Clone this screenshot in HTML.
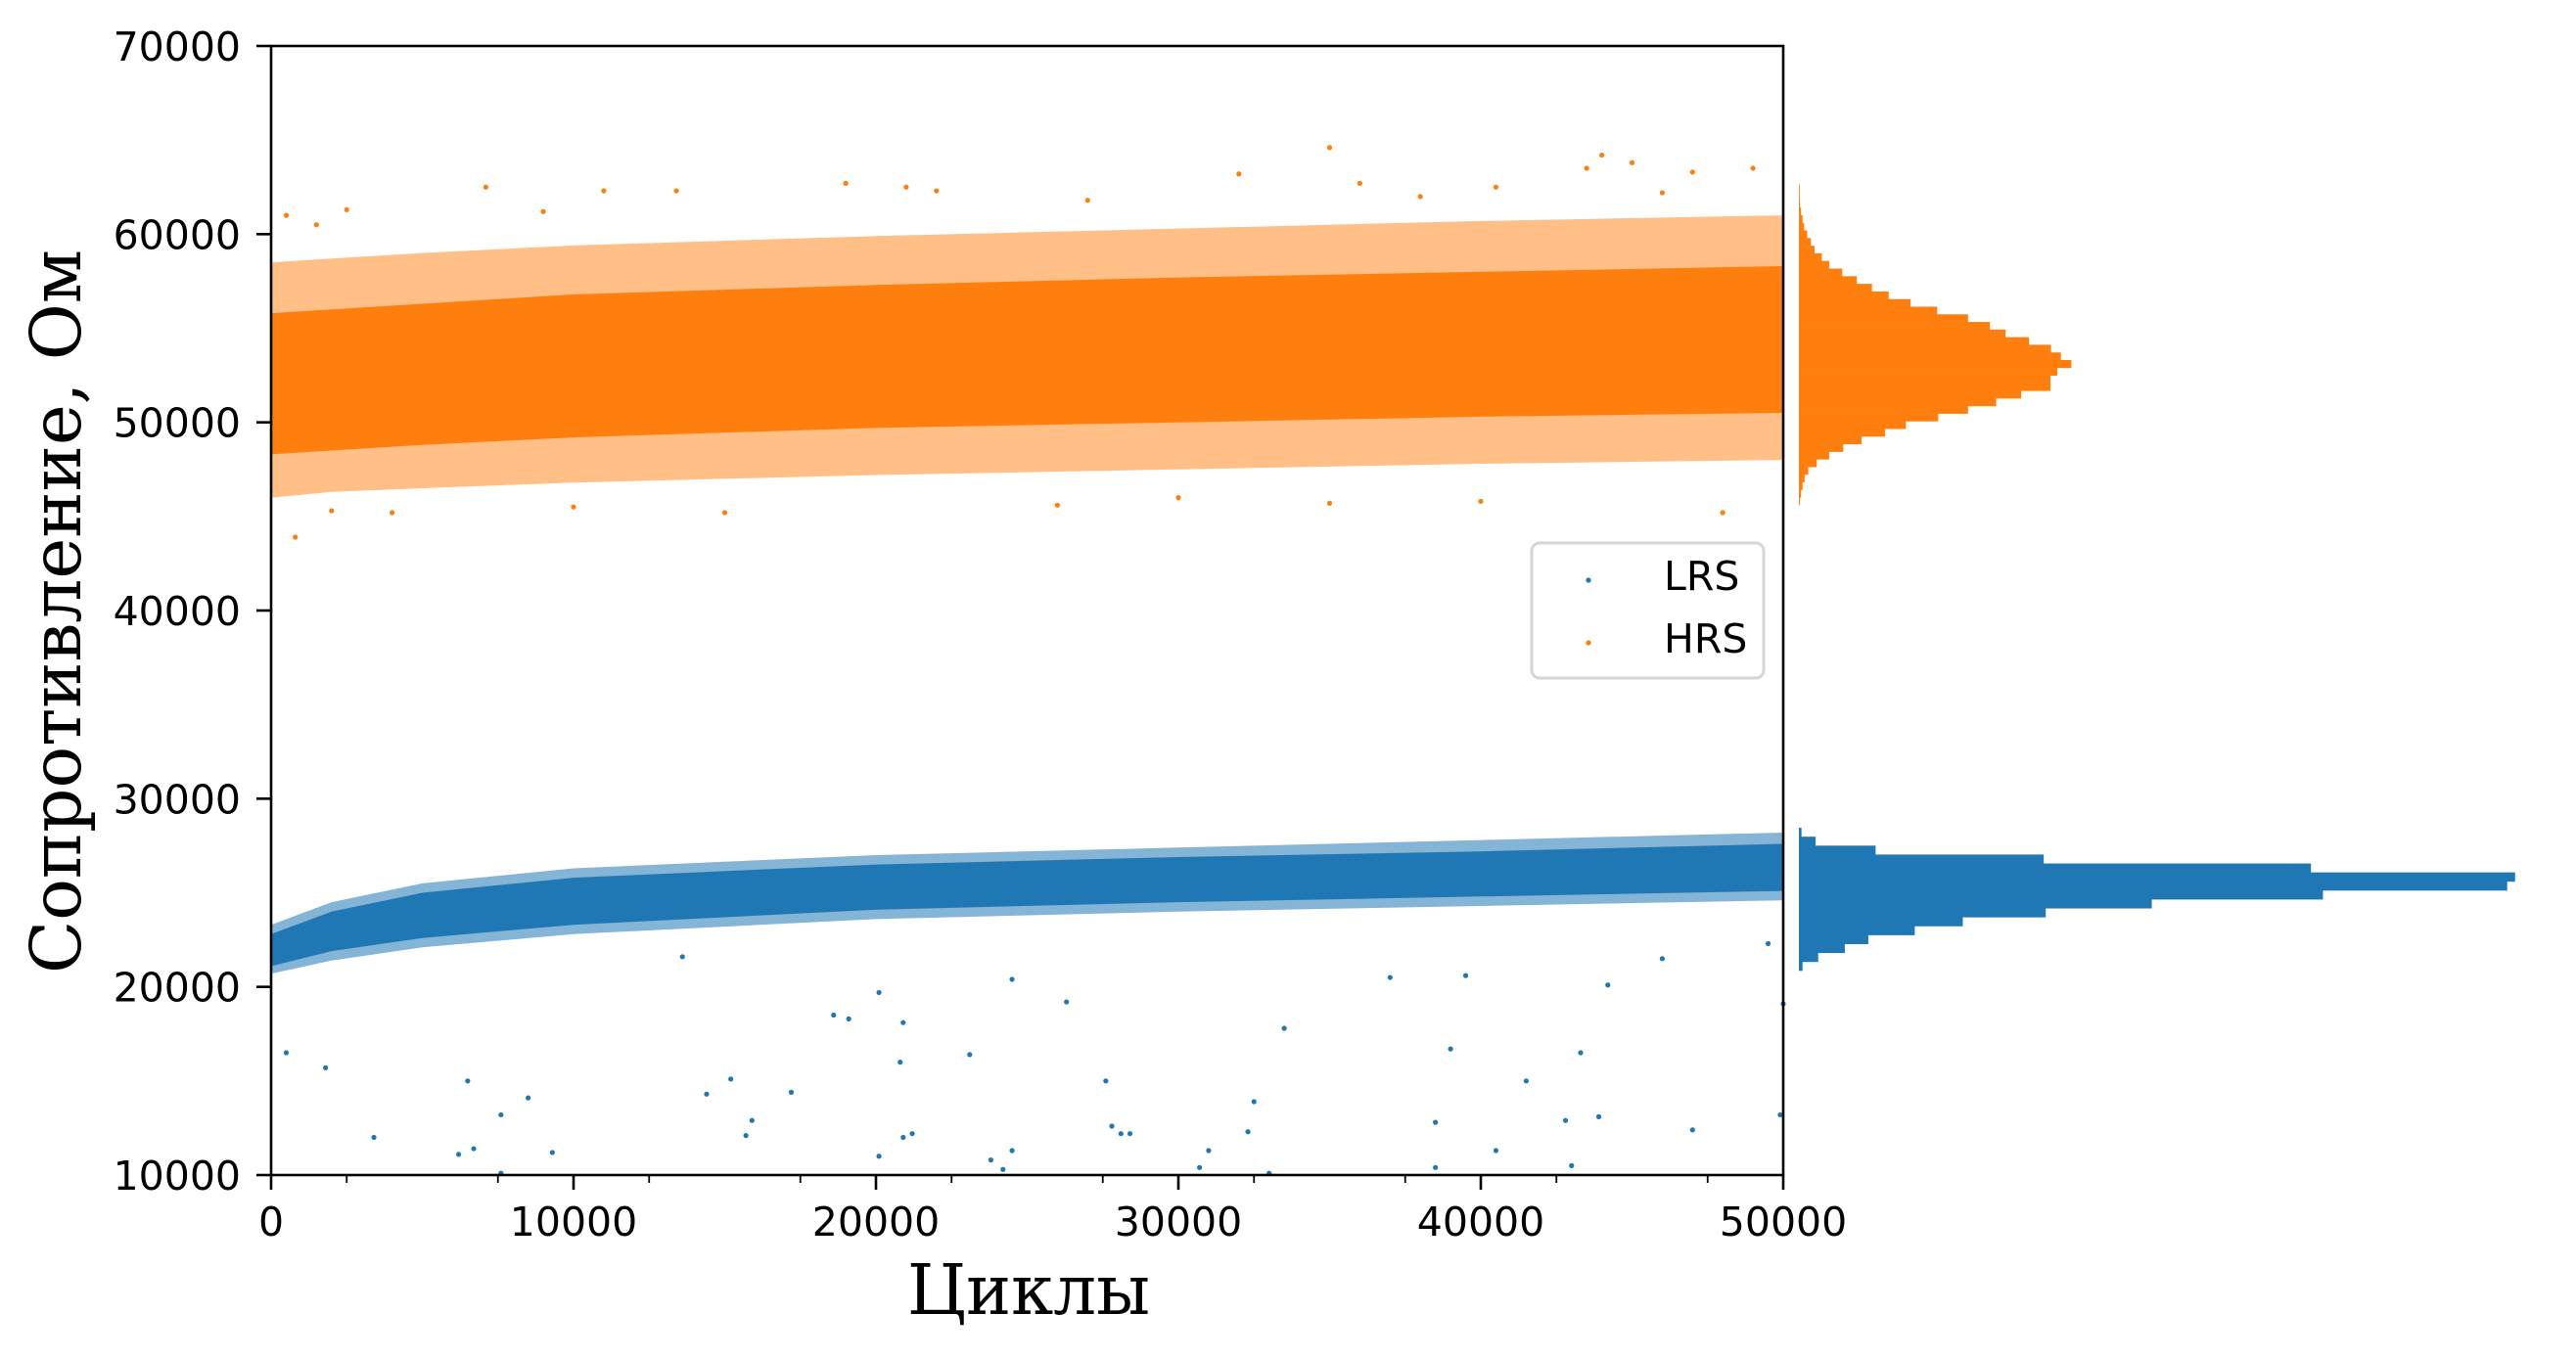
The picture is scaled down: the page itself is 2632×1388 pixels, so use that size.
<!DOCTYPE html>
<html><head><meta charset="utf-8">
<style>
html,body{margin:0;padding:0;background:#fff;}
svg{display:block;}
text{font-family:"DejaVu Sans","Liberation Sans",sans-serif;}
</style></head>
<body>
<svg id="chart" width="2632" height="1388" viewBox="0 0 2632 1388" xmlns="http://www.w3.org/2000/svg">
<rect width="2632" height="1388" fill="#fff"/>
<g id="scatter"></g>
<g id="hist"></g>
<g id="axes"></g>
<g id="legend">
  <rect x="1565" y="555" width="237" height="138" rx="8" fill="#fff" fill-opacity="0.8" stroke="#d5d5d5" stroke-width="3"/>
  <circle cx="1623" cy="593" r="2.6" fill="#1f77b4"/>
  <text x="1700" y="603" font-size="41" fill="#000">LRS</text>
  <circle cx="1623" cy="657" r="2.6" fill="#ff7f0e"/>
  <text x="1700" y="667" font-size="41" fill="#000">HRS</text>
</g>
<text x="1051" y="1343" text-anchor="middle" font-size="71" textLength="248" lengthAdjust="spacingAndGlyphs" style="font-family:'DejaVu Serif','Liberation Serif',serif">Циклы</text>
<text transform="translate(82,625) rotate(-90)" text-anchor="middle" font-size="71" textLength="740" lengthAdjust="spacingAndGlyphs" style="font-family:'DejaVu Serif','Liberation Serif',serif">Сопротивление, Ом</text>
</svg>
<script>
const xTicks = [0,10000,20000,30000,40000,50000];
const yTicks = [10000,20000,30000,40000,50000,60000,70000];
const bandX = [0,2000,5000,10000,20000,30000,40000,50000];
const hrsOuterLo = [46000,46300,46500,46800,47200,47500,47800,48000];
const hrsCoreLo  = [48300,48500,48800,49200,49700,50000,50300,50500];
const hrsCoreHi  = [55800,56000,56300,56800,57300,57700,58000,58300];
const hrsOuterHi = [58500,58700,59000,59400,59900,60300,60700,61000];
const lrsOuterLo = [20700,21400,22100,22800,23600,24000,24300,24600];
const lrsCoreLo  = [21100,21900,22600,23300,24100,24500,24800,25100];
const lrsCoreHi  = [22800,24000,25000,25800,26500,26900,27200,27600];
const lrsOuterHi = [23300,24500,25500,26300,27000,27400,27800,28200];
const lrsOutX = [500,1800,3400,6200,6500,6700,7600,7600,8500,9300,13600,14400,15200,15700,15900,17200,18600,19100,20100,20100,20800,20900,20900,21200,23100,23800,24200,24500,24500,26300,27600,27800,28100,28400,30700,31000,32300,32500,33500,33000,37000,38500,38500,39000,39500,40500,41500,42800,43000,43300,43900,44200,46000,47000,49500,49900,50000];
const lrsOutY = [16500,15700,12000,11100,15000,11400,13200,10100,14100,11200,21600,14300,15100,12100,12900,14400,18500,18300,19700,11000,16000,12000,18100,12200,16400,10800,10300,11300,20400,19200,15000,12600,12200,12200,10400,11300,12300,13900,17800,10100,20500,12800,10400,16700,20600,11300,15000,12900,10500,16500,13100,20100,21500,12400,22300,13200,19100];
const hrsOutX = [500,800,2500,7100,11000,13400,19000,21000,22000,32000,35000,36000,40500,44000,43500,45000,47000,49000,48000,15000,26000,4000,2000,35000,10000,30000,40000,1500,9000,27000,38000,46000];
const hrsOutY = [61000,43900,61300,62500,62300,62300,62700,62500,62300,63200,64600,62700,62500,64200,63500,63800,63300,63500,45200,45200,45600,45200,45300,45700,45500,46000,45800,60500,61200,61800,62000,62200];
const hrsBinStart = 45615, hrsBinWidth = 405;
const hrsCounts = [2,4,7,11,18,34,58,85,120,165,205,267,324,378,426,482,482,495,522,502,483,441,396,366,324,265,214,172,140,111,83,58,44,30,23,16,10,7,4,2,1,1];
const lrsBinStart = 20870, lrsBinWidth = 474;
const lrsCounts = [7,37,88,133,222,314,473,676,1004,1357,1372,981,469,147,32,5];

const NS='http://www.w3.org/2000/svg';
const L=277,R=1822,T=47,B=1201,H0=1838;
const xs=v=>L+(v/50000)*(R-L);
const ys=v=>B-((v-10000)/60000)*(B-T);
const HK=1.875;
function mk(tag,attrs,parent){const e=document.createElementNS(NS,tag);for(const k in attrs)e.setAttribute(k,attrs[k]);parent.appendChild(e);return e;}
const sc=document.getElementById('scatter');
function band(lo,hi,color,op,name){
  let d='';
  bandX.forEach((x,i)=>{d+=(i?'L':'M')+xs(x).toFixed(1)+','+ys(hi[i]).toFixed(1);});
  for(let i=bandX.length-1;i>=0;i--)d+='L'+xs(bandX[i]).toFixed(1)+','+ys(lo[i]).toFixed(1);
  const p=mk('path',{d:d+'Z',fill:color,'fill-opacity':op},sc);
  
  
}
band(hrsOuterLo,hrsOuterHi,'#ff7f0e',0.5,'hrs-outer-band');
band(hrsCoreLo,hrsCoreHi,'#ff7f0e',1,'hrs-core-band');
band(lrsOuterLo,lrsOuterHi,'#1f77b4',0.55,'lrs-outer-band');
band(lrsCoreLo,lrsCoreHi,'#1f77b4',1,'lrs-core-band');
lrsOutX.forEach((x,i)=>{const c=mk('circle',{cx:xs(x),cy:ys(lrsOutY[i]),r:2.6,fill:'#1f77b4'},sc);

});
hrsOutX.forEach((x,i)=>{const c=mk('circle',{cx:xs(x),cy:ys(hrsOutY[i]),r:2.6,fill:'#ff7f0e'},sc);

});

const hg=document.getElementById('hist');
hrsCounts.forEach((c,i)=>{const y0=hrsBinStart+i*hrsBinWidth;const r=mk('rect',{x:H0,y:ys(y0+hrsBinWidth),width:Math.max(c/HK,0.8),height:ys(y0)-ys(y0+hrsBinWidth)+0.4,fill:'#ff7f0e'},hg);

});
lrsCounts.forEach((c,i)=>{const y0=lrsBinStart+i*lrsBinWidth;const r=mk('rect',{x:H0,y:ys(y0+lrsBinWidth),width:Math.max(c/HK,0.8),height:ys(y0)-ys(y0+lrsBinWidth)+0.4,fill:'#1f77b4'},hg);

});

const ax=document.getElementById('axes');
const frame=mk('rect',{x:L,y:T,width:R-L,height:B-T,fill:'none',stroke:'#000','stroke-width':2.6},ax);


xTicks.forEach(v=>{const x=xs(v);
 const t=mk('line',{x1:x,y1:B,x2:x,y2:B+15,stroke:'#000','stroke-width':2.6},ax);
 
 
 const l=mk('text',{x:x,y:1263,'text-anchor':'middle','font-size':41},ax);l.textContent=v;
 
 });
for(let v=2500;v<50000;v+=5000){const x=xs(v);
 const t=mk('line',{x1:x,y1:B,x2:x,y2:B+8,stroke:'#000','stroke-width':1.8},ax);
 
 }
yTicks.forEach(v=>{const y=ys(v);
 const t=mk('line',{x1:L-15,y1:y,x2:L,y2:y,stroke:'#000','stroke-width':2.6},ax);
 
 
 const l=mk('text',{x:246,y:y+15,'text-anchor':'end','font-size':41},ax);l.textContent=v;
 
 });
</script>
</body></html>
